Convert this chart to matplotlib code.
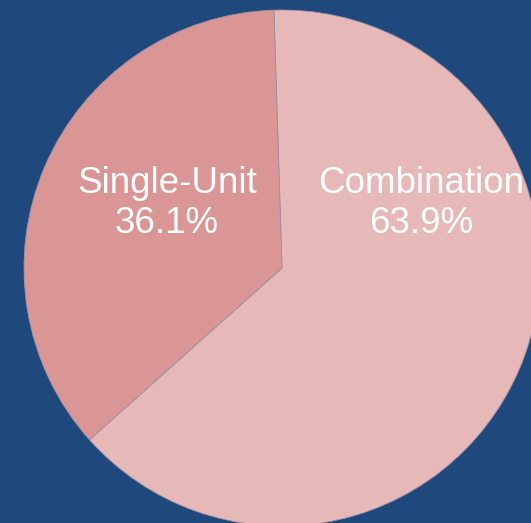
import matplotlib
matplotlib.use("Agg")
import matplotlib.pyplot as plt

# -----------------------------------
# Data
# -----------------------------------

categories = ["Combination", "Single-Unit"]
shares = [63.9, 36.1]
colors = ["#e6b9b8", "#d99694"]

# label anchor (x in px, first-line baseline in px from top)
label_pos = {"Combination": (421, 193), "Single-Unit": (167, 193)}

W, H = 531, 523
bg = "#1f497d"

fig = plt.figure(figsize=(W / 100, H / 100), dpi=100)
fig.patch.set_facecolor(bg)
ax = fig.add_axes([0, 0, 1, 1])
ax.set_facecolor(bg)

ax.pie(
    shares,
    colors=colors,
    center=(282, H - 268),
    radius=258,
    startangle=91.8,
    counterclock=False,
    wedgeprops=dict(edgecolor="#a08fa6", linewidth=0.6),
)

ax.set_xlim(0, W)
ax.set_ylim(0, H)
ax.set_aspect("equal")
ax.axis("off")

for name, val in zip(categories, shares):
    x, y = label_pos[name]
    ax.text(x, H - y, name, ha="center", va="baseline",
            fontsize=26.5, color="white", family="Liberation Sans")
    ax.text(x, H - y - 40, f"{val:.1f}%", ha="center", va="baseline",
            fontsize=26.5, color="white", family="Liberation Sans")

fig.savefig("out.png", dpi=100, facecolor=bg)
